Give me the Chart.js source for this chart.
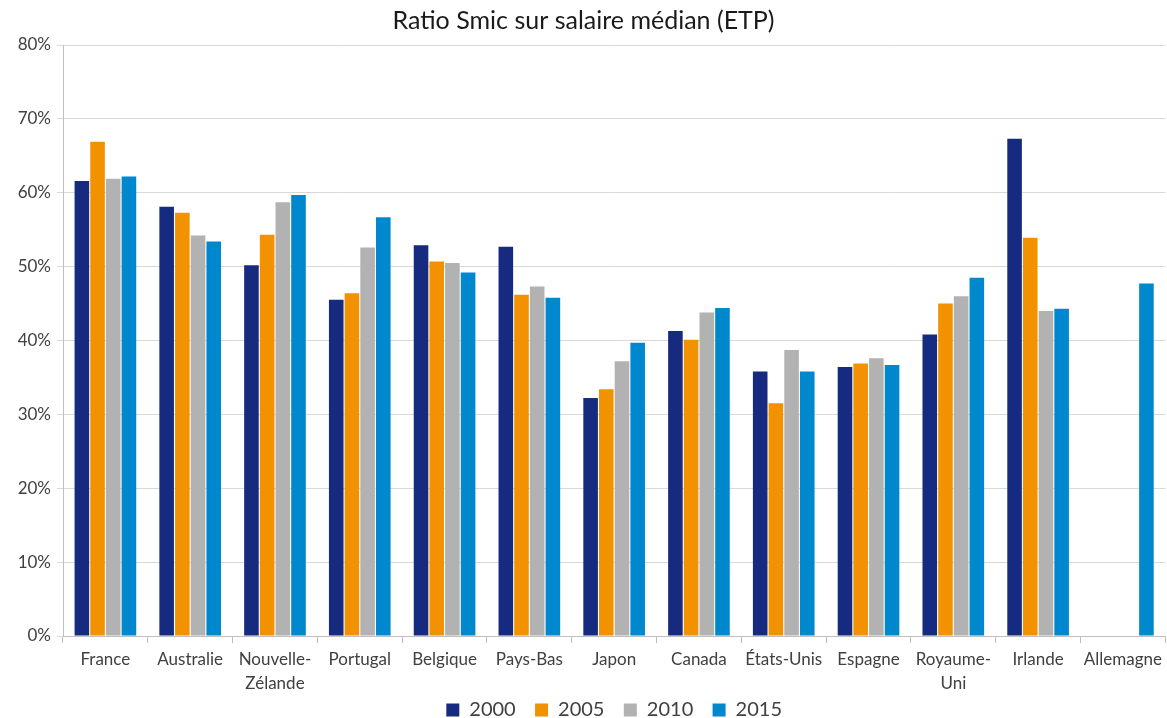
<!DOCTYPE html>
<html>
<head>
<meta charset="utf-8">
<script src="https://cdn.jsdelivr.net/npm/chart.js@4"></script>
<style>
  html, body { margin: 0; padding: 0; background: #fff; }
  #wrap { width: 1167px; height: 718px; position: relative; }
</style>
</head>
<body>
<div id="wrap"><canvas id="chart"></canvas></div>
<script>
// Pays (libellés sur deux lignes quand il le faut)
const countries = ["France", "Australie", ["Nouvelle-", "Zélande"], "Portugal", "Belgique", "Pays-Bas",
  "Japon", "Canada", "États-Unis", "Espagne", ["Royaume-", "Uni"], "Irlande", "Allemagne"];

// Ratio Smic / salaire médian, en %
const v2000 = [61.6, 58.1, 50.2, 45.5, 52.9, 52.7, 32.2, 41.3, 35.8, 36.4, 40.8, 67.3, null];
const v2005 = [66.9, 57.3, 54.3, 46.4, 50.7, 46.2, 33.4, 40.1, 31.5, 36.9, 45.0, 53.9, null];
const v2010 = [61.9, 54.2, 58.7, 52.6, 50.5, 47.3, 37.2, 43.8, 38.7, 37.6, 46.0, 44.0, null];
const v2015 = [62.2, 53.4, 59.7, 56.7, 49.2, 45.8, 39.7, 44.4, 35.8, 36.7, 48.5, 44.3, 47.7];

const years = ["2000", "2005", "2010", "2015"];
const colors = ["#162a80", "#f39200", "#b2b2b2", "#0088cf"];
const series = [v2000, v2005, v2010, v2015];

const textColor = "#404040";
const fontFamily = "Lato, 'Open Sans', sans-serif";

let datasets = [];
for (let i = 0; i < years.length; i++) {
  datasets.push({
    label: years[i],
    data: series[i],
    backgroundColor: colors[i],
    borderWidth: 0,
    categoryPercentage: 0.74,
    barPercentage: 0.93
  });
}

let ctx = document.getElementById("chart").getContext("2d");
new Chart(ctx, {
  type: 'bar',
  data: { labels: countries, datasets: datasets },
  options: {
    responsive: true,
    maintainAspectRatio: false,
    animation: false,
    // legend sits close under the axis labels, so let its box run past the bottom edge
    layout: { padding: { left: 0, right: 0, top: 0, bottom: -12 } },
    plugins: {
      title: {
        display: true,
        text: "Ratio Smic sur salaire médian (ETP)",
        color: "#1a1a1a",
        font: { family: fontFamily, size: 25, weight: 'normal' },
        padding: { top: 6, bottom: 9 }
      },
      legend: {
        position: 'bottom',
        fullSize: false, // centred under the plot area, not the whole canvas
        labels: {
          color: textColor,
          font: { family: fontFamily, size: 20 },
          boxWidth: 13,
          boxHeight: 13,
          padding: 4,
          // extra room between the items
          generateLabels: function (chart) {
            let items = Chart.defaults.plugins.legend.labels.generateLabels(chart);
            items.forEach(function (it, i) {
              if (i < items.length - 1) it.text = it.text + "   ";
            });
            return items;
          }
        }
      },
      tooltip: { enabled: false }
    },
    scales: {
      x: {
        grid: { drawOnChartArea: false, drawTicks: true, tickLength: 7, color: "#bfbfbf" },
        border: { color: "#bfbfbf" },
        ticks: {
          color: textColor,
          font: { family: fontFamily, size: 17, lineHeight: 1.4 },
          maxRotation: 0, autoSkip: false, padding: 5
        },
        afterFit: function (scale) { scale.height = 60; }
      },
      y: {
        min: 0,
        max: 80,
        grid: { color: "#d9d9d9", tickLength: 6 },
        border: { color: "#bfbfbf" },
        ticks: {
          stepSize: 10,
          color: textColor,
          font: { family: fontFamily, size: 17 },
          padding: 6,
          callback: function (v) { return v + "%"; }
        },
        afterFit: function (scale) { scale.width = 63; }
      }
    }
  }
});
</script>
</body>
</html>
